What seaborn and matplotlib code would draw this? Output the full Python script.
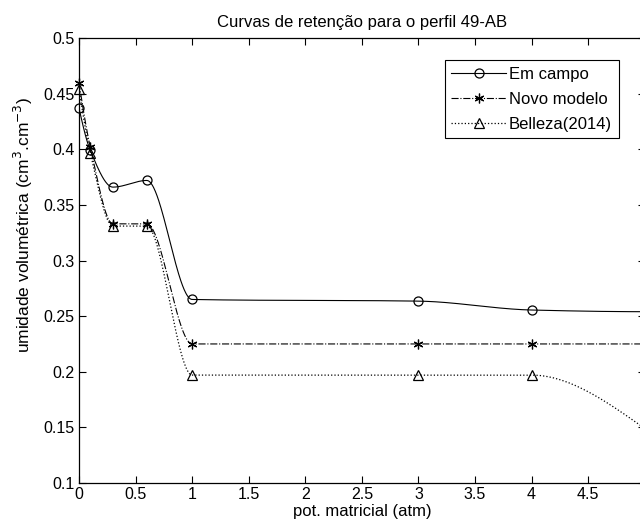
import numpy as np
import pandas as pd
import matplotlib
matplotlib.use("Agg")
import matplotlib.pyplot as plt
from matplotlib.lines import Line2D
import seaborn as sns

# ---- data ----
pot = [0.0, 0.1, 0.3, 0.6, 1.0, 3.0, 4.0, 5.0]
em_campo = [0.437, 0.399, 0.366, 0.372, 0.265, 0.2635, 0.2555, 0.254]
novo_modelo = [0.460, 0.402, 0.333, 0.333, 0.225, 0.225, 0.225, 0.225]
belleza = [0.454, 0.397, 0.331, 0.331, 0.197, 0.197, 0.197, 0.149]
series_names = ["Em campo", "Novo modelo", "Belleza(2014)"]
xticks = [0, 0.5, 1, 1.5, 2, 2.5, 3, 3.5, 4, 4.5, 5]
xtick_labels = ["0", "0.5", "1", "1.5", "2", "2.5", "3", "3.5", "4", "4.5", "5"]
yticks = [0.1, 0.15, 0.2, 0.25, 0.3, 0.35, 0.4, 0.45, 0.5]
ytick_labels = ["0.1", "0.15", "0.2", "0.25", "0.3", "0.35", "0.4", "0.45", "0.5"]


def pchip(x, y, xi):
    x = np.asarray(x, float); y = np.asarray(y, float)
    h = np.diff(x); delta = np.diff(y) / h
    n = len(x); d = np.zeros(n)
    for k in range(1, n - 1):
        if delta[k - 1] * delta[k] > 0:
            w1 = 2 * h[k] + h[k - 1]; w2 = h[k] + 2 * h[k - 1]
            d[k] = (w1 + w2) / (w1 / delta[k - 1] + w2 / delta[k])

    def end(h0, h1, d0, d1):
        s = ((2 * h0 + h1) * d0 - h0 * d1) / (h0 + h1)
        if np.sign(s) != np.sign(d0):
            s = 0.0
        elif np.sign(d0) != np.sign(d1) and abs(s) > abs(3 * d0):
            s = 3 * d0
        return s
    d[0] = end(h[0], h[1], delta[0], delta[1])
    d[-1] = end(h[-1], h[-2], delta[-1], delta[-2])
    idx = np.clip(np.searchsorted(x, xi) - 1, 0, n - 2)
    t = (xi - x[idx]) / h[idx]
    h00 = 2 * t**3 - 3 * t**2 + 1; h10 = t**3 - 2 * t**2 + t
    h01 = -2 * t**3 + 3 * t**2; h11 = t**3 - t**2
    return h00 * y[idx] + h10 * h[idx] * d[idx] + h01 * y[idx + 1] + h11 * h[idx] * d[idx + 1]


plt.rcParams['font.family'] = ['Liberation Sans', 'DejaVu Sans']
fig = plt.figure(figsize=(6.4, 5.29), dpi=100)
fig.patch.set_facecolor("white")
ax = fig.add_axes([0.1234, 0.087, 0.884, 0.841])

xs = np.linspace(0, 5, 1001)
styles = [("-", "o", 6.5, 0.8), ("-.", (6, 2, 0), 7, 0.8), (":", "^", 7, 0.9)]
handles = []
for name, vals, (ls, mk, ms, lw) in zip(series_names, [em_campo, novo_modelo, belleza], styles):
    dense = pd.DataFrame({"x": xs, "y": pchip(pot, vals, xs)})
    sns.lineplot(data=dense, x="x", y="y", ax=ax, color="black", linestyle=ls,
                 linewidth=lw, estimator=None, sort=False)
    pts = pd.DataFrame({"x": pot, "y": vals})
    ax.plot(pts["x"], pts["y"], linestyle="none", marker=mk, markersize=ms,
            markerfacecolor="none", markeredgecolor="black", markeredgewidth=0.9,
            clip_on=False)
    handles.append(Line2D([], [], color="black", linestyle=ls, linewidth=lw, marker=mk,
                          markersize=ms, markerfacecolor="none", markeredgecolor="black",
                          markeredgewidth=0.9))

ax.set_xlim(0, 5)
ax.set_ylim(0.1, 0.5)
ax.set_xticks(xticks)
ax.set_xticklabels(xtick_labels)
ax.set_yticks(yticks)
ax.set_yticklabels(ytick_labels)
ax.tick_params(direction="in", top=True, right=True, length=5, width=0.8,
               labelsize=11.5, colors="black", pad=3)
for s in ax.spines.values():
    s.set_linewidth(0.9)
    s.set_color("black")
ax.set_facecolor("white")
ax.set_xlabel("pot. matricial (atm)", fontsize=12, labelpad=1)
ax.set_ylabel("umidade volumétrica (cm$^3$.cm$^{-3}$)", fontsize=12.5)
ax.yaxis.set_label_coords(-0.078, 0.58)
ax.set_title("Curvas de retenção para o perfil 49-AB", fontsize=12, pad=8)

leg = ax.legend(handles, series_names, loc="upper right", bbox_to_anchor=(0.954, 0.951),
                fontsize=12, frameon=True, fancybox=False, handlelength=3.3,
                handletextpad=0.15, borderpad=0.4, labelspacing=0.6, framealpha=1,
                edgecolor="black", borderaxespad=0)
leg.get_frame().set_linewidth(0.8)

fig.savefig("out.png", dpi=100, facecolor="white")
